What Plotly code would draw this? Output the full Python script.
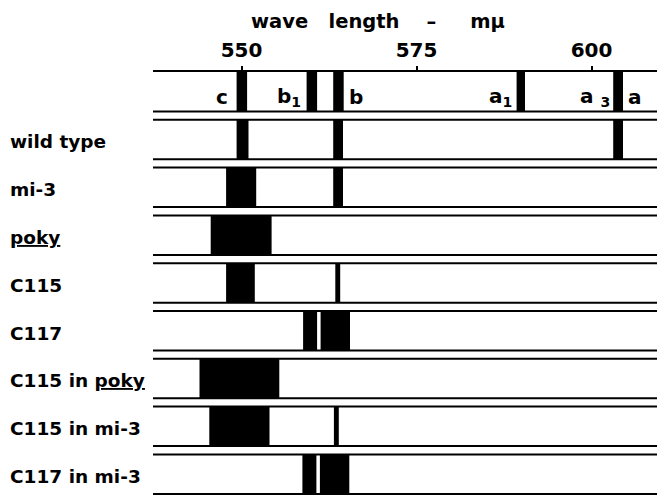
import plotly.graph_objects as go

# ---------------- data ----------------
tick_values = [550, 575, 600]
tick_labels = ["550", "575", "600"]

row_labels = ["wild type", "mi-3", "<u>poky</u>", "C115", "C117",
              "C115 in <u>poky</u>", "C115 in mi-3", "C117 in mi-3"]

# reference band positions (header row), nm
ref_start = [549.3, 559.3, 563.1, 589.3, 603.1]
ref_end = [550.8, 560.8, 564.6, 590.5, 604.5]

# absorption bands for each strain, nm (start, end)
wild_type_bands = [(549.3, 551.0), (563.1, 564.5), (603.1, 604.5)]
mi3_bands = [(547.8, 552.1), (563.1, 564.5)]
poky_bands = [(545.6, 554.3)]
c115_bands = [(547.8, 551.9), (563.4, 564.1)]
c117_bands = [(558.8, 560.8), (561.3, 565.5)]
c115_poky_bands = [(544.0, 555.4)]
c115_mi3_bands = [(545.4, 554.0), (563.2, 563.9)]
c117_mi3_bands = [(558.7, 560.7), (561.2, 565.4)]

row_bands = [wild_type_bands, mi3_bands, poky_bands, c115_bands, c117_bands,
             c115_poky_bands, c115_mi3_bands, c117_mi3_bands]

# ---------------- layout ----------------
OFF = 8               # page body margin of the html page
W, H = 665 - OFF, 497 - OFF
ML, MT = 153 - OFF, 72 - OFF
HALF = 0.413          # half height of a row box, in row units
PITCH = 47.8          # px per row
FONT = "DejaVu Sans"
BLACK = "#000000"

fig = go.Figure()
fig.add_trace(go.Scatter(x=[tick_values[0]], y=[0], mode="markers",
                         marker=dict(opacity=0), hoverinfo="skip", showlegend=False))

shapes = []
annotations = []


def row_lines(i, top=True):
    y_top = i - HALF
    y_bot = i + HALF
    if top:
        shapes.append(dict(type="line", xref="paper", yref="y", x0=0.0, x1=1,
                           y0=y_top, y1=y_top, line=dict(color=BLACK, width=2)))
    shapes.append(dict(type="line", xref="paper", yref="y", x0=0.0, x1=1,
                       y0=y_bot, y1=y_bot, line=dict(color=BLACK, width=2)))


def band(i, x0, x1):
    shapes.append(dict(type="rect", xref="x", yref="y", x0=x0, x1=x1,
                       y0=i - HALF, y1=i + HALF, fillcolor=BLACK,
                       line=dict(width=0), layer="above"))


# header row (index -1): top edge is the axis line
row_lines(-1, top=False)
for s, e in zip(ref_start, ref_end):
    band(-1, s, e)

lab_font = dict(family=FONT, size=20, color=BLACK)
hdr_y = -1 + 0.12
hdr = [
    dict(x=ref_start[0] - 0.9, y=hdr_y, text="<b>c</b>", xanchor="right"),
    dict(x=ref_start[1] - 0.5, y=hdr_y, text="<b>b<sub>1</sub></b>", xanchor="right"),
    dict(x=ref_end[2] + 0.4, y=hdr_y, text="<b>b</b>", xanchor="left"),
    dict(x=ref_start[3] - 0.4, y=hdr_y, text="<b>a<sub>1</sub></b>", xanchor="right"),
    dict(x=ref_start[4] - 0.2, y=hdr_y, text="<b>a <sub>3</sub></b>", xanchor="right"),
    dict(x=ref_end[4] + 0.4, y=hdr_y, text="<b>a</b>", xanchor="left"),
]
for a in hdr:
    a.update(xref="x", yref="y", yanchor="middle", showarrow=False, font=lab_font)
annotations += hdr

# strain rows
for i, (lab, bands) in enumerate(zip(row_labels, row_bands)):
    row_lines(i)
    for s, e in bands:
        band(i, s, e)
    annotations.append(dict(xref="paper", yref="y", x=-ML / (W - ML), y=i + 0.05,
                            text="<b>" + lab + "</b>", xanchor="left", yanchor="middle",
                            showarrow=False, font=dict(family=FONT, size=18.5, color=BLACK)))

# title
NB = "\u00a0"
title = "<b>wave" + NB * 3 + "length" + NB * 4 + "–" + NB * 5 + "mμ</b>"
annotations.append(dict(xref="paper", yref="paper", x=(378 - OFF - ML) / (W - ML),
                        y=H / (H - MT),
                        text=title, xanchor="center", yanchor="top", showarrow=False,
                        font=dict(family=FONT, size=19.5, color=BLACK)))

# x range so that 550 nm sits at x=241.5 px (page) with 7 px / nm
px_per_nm = 7.0
x_lo = 550 - (241.5 - 153) / px_per_nm
x_hi = x_lo + (W - ML) / px_per_nm

y_lo = -1 - HALF
y_hi = y_lo + (H - MT) / PITCH

fig.update_layout(
    width=W, height=H,
    margin=dict(l=ML, r=0, t=MT, b=0, pad=0),
    paper_bgcolor="white", plot_bgcolor="white",
    showlegend=False,
    shapes=shapes, annotations=annotations,
    xaxis=dict(range=[x_lo, x_hi], side="top", tickvals=tick_values,
               ticktext=["<b>" + t + "</b>" for t in tick_labels],
               ticks="outside", ticklen=4, tickwidth=2, tickcolor=BLACK,
               showline=True, linewidth=2, linecolor=BLACK, showgrid=False, zeroline=False,
               tickfont=dict(family=FONT, size=20, color=BLACK), ticklabelstandoff=1,
               fixedrange=True),
    yaxis=dict(range=[y_hi, y_lo], visible=False, showgrid=False, zeroline=False,
               fixedrange=True),
)

fig.write_html("out.html")
